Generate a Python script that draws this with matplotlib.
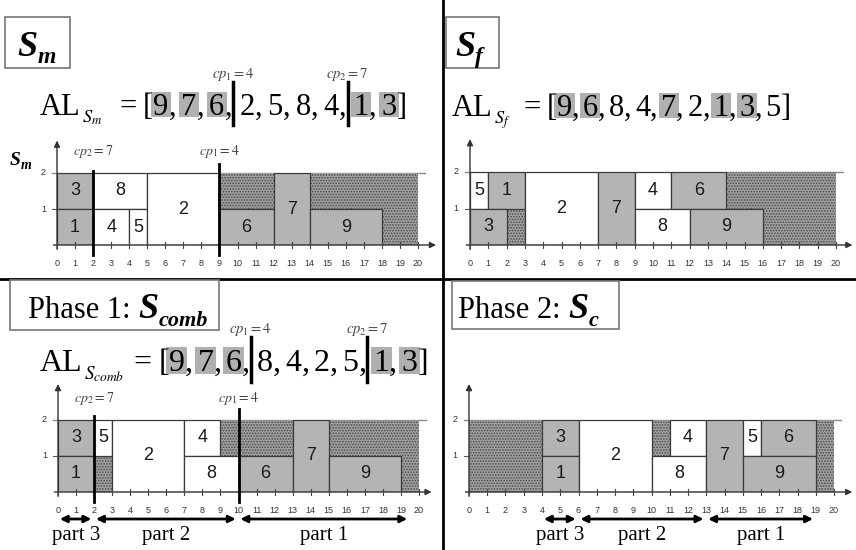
import numpy as np
import matplotlib
matplotlib.use('Agg')
import matplotlib.pyplot as plt
from matplotlib.patches import Rectangle

plt.rcParams['mathtext.fontset'] = 'stix'
plt.rcParams['hatch.linewidth'] = 0.8

W, H = 856, 550
SERIF = 'Liberation Serif'
SANS = 'Liberation Sans'
GREY = '#b4b4b4'
SHADE = '#b0b0b0'
IDLE_BG = '#a0a0a0'
IDLE_FG = '#4a4a4a'

# ---------------- data ----------------
# S_m
sm_job = ['3', '1', '8', '4', '5', '2', '6', '7', '9']
sm_start = [0, 0, 2, 2, 4, 5, 9, 12, 14]
sm_end = [2, 2, 5, 4, 5, 9, 12, 14, 18]
sm_low = [1, 0, 1, 0, 0, 0, 0, 0, 0]
sm_high = [2, 1, 2, 1, 1, 2, 1, 2, 1]
sm_grey = [1, 1, 0, 0, 0, 0, 1, 1, 1]
sm_idle_start = [9, 14, 18]
sm_idle_end = [12, 20, 20]
sm_idle_low = [1, 1, 0]
sm_idle_high = [2, 2, 1]
sm_cut_t = [2, 9]
sm_cut_lab = [r'$cp_2=7$', r'$cp_1=4$']

# S_f
sf_job = ['5', '1', '3', '2', '7', '4', '6', '8', '9']
sf_start = [0, 1, 0, 3, 7, 9, 11, 9, 12]
sf_end = [1, 3, 2, 7, 9, 11, 14, 12, 16]
sf_low = [1, 1, 0, 0, 0, 1, 1, 0, 0]
sf_high = [2, 2, 1, 2, 2, 2, 2, 1, 1]
sf_grey = [0, 1, 1, 0, 1, 0, 1, 0, 1]
sf_idle_start = [2, 14, 16]
sf_idle_end = [3, 20, 20]
sf_idle_low = [0, 1, 0]
sf_idle_high = [1, 2, 1]

# Phase 1: S_comb
sb_job = ['3', '1', '5', '2', '4', '8', '6', '7', '9']
sb_start = [0, 0, 2, 3, 7, 7, 10, 13, 15]
sb_end = [2, 2, 3, 7, 9, 10, 13, 15, 19]
sb_low = [1, 0, 1, 0, 1, 0, 0, 0, 0]
sb_high = [2, 1, 2, 2, 2, 1, 1, 2, 1]
sb_grey = [1, 1, 0, 0, 0, 0, 1, 1, 1]
sb_idle_start = [2, 9, 15, 19]
sb_idle_end = [3, 13, 20, 20]
sb_idle_low = [0, 1, 1, 0]
sb_idle_high = [1, 2, 2, 1]
sb_cut_t = [2, 10]
sb_cut_lab = [r'$cp_2=7$', r'$cp_1=4$']
sb_part_edges = [0, 2, 10, 19.5]

# Phase 2: S_c
sc_job = ['3', '1', '2', '4', '8', '7', '5', '6', '9']
sc_start = [4, 4, 6, 11, 10, 13, 15, 16, 15]
sc_end = [6, 6, 10, 13, 13, 15, 16, 19, 19]
sc_low = [1, 0, 0, 1, 0, 0, 1, 1, 0]
sc_high = [2, 1, 2, 2, 1, 2, 2, 2, 1]
sc_grey = [1, 1, 0, 0, 0, 1, 0, 1, 1]
sc_idle_start = [0, 10, 19]
sc_idle_end = [4, 11, 20]
sc_idle_low = [0, 1, 0]
sc_idle_high = [2, 2, 2]
sc_part_edges = [4, 6, 13, 19]

part_names = ['part 3', 'part 2', 'part 1']

# activity lists
al_sm = [9, 7, 6, 2, 5, 8, 4, 1, 3]
al_sf = [9, 6, 8, 4, 7, 2, 1, 3, 5]
al_scomb = [9, 7, 6, 8, 4, 2, 5, 1, 3]
al_sm_shaded = [9, 7, 6, 1, 3]
al_sf_shaded = [9, 6, 7, 1, 3]
al_cuts = [3, 7]
al_cp = [r'$cp_1=4$', r'$cp_2=7$']
ticks = list(range(21))

fig = plt.figure(figsize=(W / 100, H / 100), dpi=100)
ov = fig.add_axes([0, 0, 1, 1])
ov.set_xlim(0, W)
ov.set_ylim(H, 0)
ov.axis('off')


def panel(x0, x20, y0, y2):
    ax = fig.add_axes([x0 / W, 1 - y0 / H, (x20 - x0) / W, (y0 - y2) / H])
    ax.set_xlim(0, 20)
    ax.set_ylim(0, 2)
    ax.axis('off')
    return ax


def gantt(ax, job, start, end, low, high, grey, i_s, i_e, i_l, i_h, xtip, ytip):
    s = np.array(start, float)
    e = np.array(end, float)
    lo = np.array(low, float)
    hi = np.array(high, float)
    ax.bar(i_s, np.subtract(i_h, i_l), width=np.subtract(i_e, i_s), bottom=i_l,
           align='edge', color=IDLE_BG, edgecolor=IDLE_FG, hatch='......',
           linewidth=0, zorder=1)
    cols = [GREY if g else 'white' for g in grey]
    ax.bar(s, hi - lo, width=e - s, bottom=lo, align='edge', color=cols,
           edgecolor='#3a3a3a', linewidth=0.9, zorder=2)
    for j, a, b, l, h in zip(job, s, e, lo, hi):
        ax.text((a + b) / 2, (l + h) / 2, j, ha='center', va='center',
                fontsize=13, family=SANS, color='#1a1a1a', zorder=4)
    ax.plot([-0.25, 20.4], [2, 2], color='#8a8a8a', lw=1, zorder=0, clip_on=False)
    ax.plot([-0.25, 0], [1, 1], color='#555555', lw=0.8, clip_on=False)
    ap = dict(arrowstyle='-|>', color='#333333', lw=1, mutation_scale=9,
              shrinkA=0, shrinkB=0)
    ax.annotate('', xy=(xtip, 0), xytext=(-0.2, 0), arrowprops=ap,
                annotation_clip=False, zorder=5)
    ax.annotate('', xy=(0, ytip), xytext=(0, -0.12), arrowprops=ap,
                annotation_clip=False, zorder=5)
    for t in ticks:
        ax.plot([t, t], [-0.08, 0.08], color='#444444', lw=0.8, clip_on=False, zorder=5)
        ax.text(t, -0.52, str(t), ha='center', va='center', fontsize=6.5,
                family=SANS, color='#333333')
    for v in (1, 2):
        ax.text(-0.75, v, str(v), ha='center', va='center', fontsize=6.5,
                family=SANS, color='#333333')


def cuts(ax, times, labels, tops):
    for t, lab, top in zip(times, labels, tops):
        ax.plot([t, t], [-0.28, top], color='black', lw=2, clip_on=False, zorder=6)
        ax.text(t, 2.6, lab, ha='center', va='center', fontsize=10, color='#444444')


def parts(ax, edges):
    for k, name in enumerate(part_names):
        a, b = edges[k], edges[k + 1]
        ax.annotate('', xy=(b - 0.15, -0.75), xytext=(a + 0.1, -0.75),
                    arrowprops=dict(arrowstyle='<|-|>', color='black', lw=2,
                                    mutation_scale=10, shrinkA=0, shrinkB=0),
                    annotation_clip=False)
        ax.text((a + b) / 2, -1.2, name, ha='center', va='center',
                fontsize=15, family=SERIF)


ax1 = panel(57, 418, 245, 173)
gantt(ax1, sm_job, sm_start, sm_end, sm_low, sm_high, sm_grey,
      sm_idle_start, sm_idle_end, sm_idle_low, sm_idle_high, 21.0, 2.9)
cuts(ax1, sm_cut_t, sm_cut_lab, [2.05, 2.25])

ax2 = panel(470, 836, 245, 172)
gantt(ax2, sf_job, sf_start, sf_end, sf_low, sf_high, sf_grey,
      sf_idle_start, sf_idle_end, sf_idle_low, sf_idle_high, 20.9, 2.9)

ax3 = panel(58, 419, 492, 420)
gantt(ax3, sb_job, sb_start, sb_end, sb_low, sb_high, sb_grey,
      sb_idle_start, sb_idle_end, sb_idle_low, sb_idle_high, 20.7, 3.0)
cuts(ax3, sb_cut_t, sb_cut_lab, [2.1, 2.3])
parts(ax3, sb_part_edges)

ax4 = panel(469, 834, 492, 420)
gantt(ax4, sc_job, sc_start, sc_end, sc_low, sc_high, sc_grey,
      sc_idle_start, sc_idle_end, sc_idle_low, sc_idle_high, 21.0, 3.0)
parts(ax4, sc_part_edges)

# dividers
ov.plot([0, W], [279, 279], color='black', lw=2)
ov.plot([443, 443], [0, H], color='black', lw=2)

fig.canvas.draw()
rend = fig.canvas.get_renderer()


def piece(x, y, s, size, **kw):
    t = ov.text(x, y, s, fontsize=size, va='baseline', ha='left', **kw)
    return x + t.get_window_extent(rend).width


def al_line(x, y, size, sub, sub_gap, gap, items, shaded, cut_idx, cps):
    px = size * 100 / 72
    x = piece(x, y, 'AL', size, family=SERIF)
    x = piece(x + 1, y + 0.25 * px, sub, size * 0.6)
    x = piece(x + sub_gap, y, '=', size, family=SERIF)
    x = piece(x + 0.2 * px, y, '[', size, family=SERIF)
    cp_i = 0
    for i, v in enumerate(items):
        if i in cut_idx:
            bx = x - 0.12 * px
            ov.plot([bx, bx], [y - 1.07 * px, y + 0.33 * px], color='black', lw=2.5, zorder=4)
            ov.text(bx, y - 1.2 * px, cps[cp_i], fontsize=10.5, ha='center',
                    va='baseline', color='#444444')
            cp_i += 1
            x += 0.08 * px
        x0 = x
        x = piece(x, y, str(v), size, family=SERIF, zorder=3)
        if v in shaded:
            ov.add_patch(Rectangle((x0 - 2.5, y - 0.75 * px), x - x0 + 5, 0.83 * px,
                                   fc=SHADE, ec='none', zorder=1))
        if i < len(items) - 1:
            x = piece(x, y, ',', size, family=SERIF, zorder=3) + gap * px
    piece(x, y, ']', size, family=SERIF)


def boxed_title(bx0, by0, bx1, by1, x, y, parts_):
    ov.add_patch(Rectangle((bx0, by0), bx1 - bx0, by1 - by0, fc='white',
                           ec='#777777', lw=1.2, zorder=2))
    for s, size, dy, bold in parts_:
        kw = dict(style='italic', weight='bold') if bold else {}
        x = piece(x, y + dy, s, size, family=SERIF, zorder=3, **kw)


boxed_title(5, 17, 70, 68, 17, 56, [('S', 26, 0, True), ('m', 17, 7, True)])
boxed_title(446, 17, 499, 68, 455, 56, [('S', 26, 0, True), ('f', 17, 7, True)])
boxed_title(10, 280, 219, 330, 28, 318,
            [('Phase 1: ', 22, 0, False), ('S', 26, 0, True), ('comb', 16, 8, True)])
boxed_title(452, 281, 619, 329, 458, 318,
            [('Phase 2: ', 22, 0, False), ('S', 26, 0, True), ('c', 16, 8, True)])

# y-axis label of the first schedule
xx = piece(10, 165, 'S', 14, family=SERIF, style='italic', weight='bold')
piece(xx, 169, 'm', 10, family=SERIF, style='italic', weight='bold')

al_line(40, 115, 22, r'$S_m$', 18, 0.17, al_sm, al_sm_shaded, al_cuts, al_cp)
al_line(452, 116, 22, r'$S_f$', 13, 0.11, al_sf, al_sf_shaded, [], [])
al_line(40, 371, 23, r'$S_{comb}$', 10, 0.14, al_scomb, al_sm_shaded, al_cuts, al_cp)

fig.savefig('out.png', dpi=100)
